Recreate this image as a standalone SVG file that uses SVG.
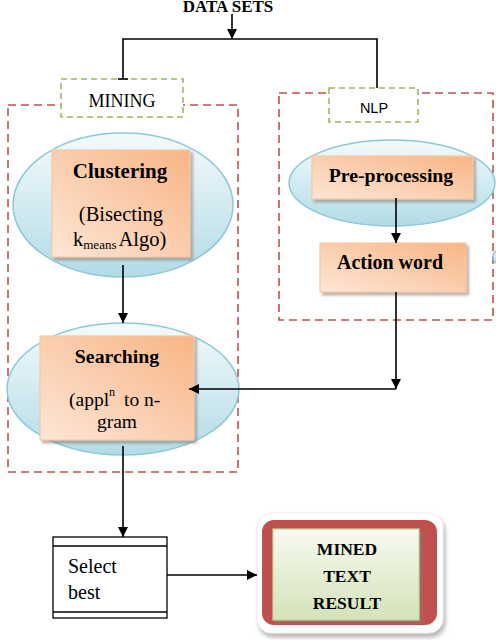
<svg xmlns="http://www.w3.org/2000/svg" width="496" height="640" viewBox="0 0 496 640">
<style>
.ser{font-family:"Liberation Serif","DejaVu Serif",serif;fill:#000}
.b{font-weight:bold}
.san{font-family:"Liberation Sans","DejaVu Sans",sans-serif;fill:#000}
.reddash{fill:none;stroke:#c0504d;stroke-width:1.6;stroke-dasharray:8 5}
.greendash{fill:#fff;stroke:#9bbb59;stroke-width:1.6;stroke-dasharray:6 4}
.ell{fill:url(#gBlue);stroke:#8ec8d8;stroke-width:1.5}
.org{fill:url(#gOrange);stroke:#f6c8a5;stroke-width:1.2;filter:url(#sh)}
.con{fill:none;stroke:#000;stroke-width:1.6}
</style>
<defs>
<linearGradient id="gBlue" x1="0" y1="0" x2="0" y2="1">
<stop offset="0" stop-color="#f4fafc"/>
<stop offset="1" stop-color="#b2dbe6"/>
</linearGradient>
<linearGradient id="gOrange" x1="1" y1="0" x2="0" y2="1">
<stop offset="0" stop-color="#f8b585"/>
<stop offset="1" stop-color="#fde6d6"/>
</linearGradient>
<linearGradient id="gGreen" x1="0" y1="0" x2="0" y2="1">
<stop offset="0" stop-color="#f7faf1"/>
<stop offset="1" stop-color="#d3e3b8"/>
</linearGradient>
<filter id="sh" x="-10%" y="-10%" width="125%" height="130%">
<feDropShadow dx="2.5" dy="3" stdDeviation="1" flood-color="#8a7a70" flood-opacity="0.55"/>
</filter>
<filter id="sh2" x="-10%" y="-10%" width="125%" height="130%">
<feDropShadow dx="2" dy="4" stdDeviation="2" flood-color="#7a6a6a" flood-opacity="0.5"/>
</filter>
<marker id="ah" viewBox="0 0 10 10" refX="10" refY="5" markerWidth="10" markerHeight="10" markerUnits="userSpaceOnUse" orient="auto">
<path d="M0,0 L10,5 L0,10 z" fill="#000"/>
</marker>
</defs>

<g id="title">
<text class="ser b" x="228" y="12" font-size="17" text-anchor="middle">DATA SETS</text>
</g>

<g id="mining-group">
<rect class="reddash" x="8" y="105" width="230" height="367"/>
<rect class="greendash" x="61" y="79" width="122" height="38"/>
<text class="ser" x="122" y="107" font-size="18" text-anchor="middle">MINING</text>
</g>

<g id="nlp-group">
<rect class="reddash" x="279" y="93" width="214" height="227"/>
<rect class="greendash" x="329" y="88" width="89" height="34"/>
<text class="san" x="374" y="113" font-size="14.5" text-anchor="middle">NLP</text>
</g>

<g id="clustering">
<ellipse class="ell" cx="123" cy="205" rx="110" ry="72"/>
<rect class="org" x="52" y="150" width="138" height="107"/>
<text class="ser b" x="120" y="178" font-size="21" text-anchor="middle">Clustering</text>
<text class="ser" x="121" y="221" font-size="20.5" text-anchor="middle">(Bisecting</text>
<text class="ser" x="73" y="246" font-size="20.5">k<tspan font-size="13" dy="3">means</tspan><tspan dy="-3" dx="2">Algo)</tspan></text>
</g>

<g id="preprocessing">
<ellipse class="ell" cx="392" cy="183" rx="103" ry="43"/>
<rect class="org" x="312" y="156" width="161" height="43"/>
<text class="ser b" x="391" y="182" font-size="19.8" text-anchor="middle">Pre-processing</text>
</g>

<g id="partial-ellipse">
<ellipse class="ell" cx="585" cy="257" rx="92" ry="24"/>
</g>

<g id="actionword">
<rect class="org" x="320" y="243" width="146" height="49"/>
<text class="ser b" x="390" y="269" font-size="20" text-anchor="middle">Action word</text>
</g>

<g id="searching">
<ellipse class="ell" cx="123" cy="389" rx="116" ry="66"/>
<rect class="org" x="40" y="336" width="154" height="104"/>
<text class="ser b" x="117" y="363" font-size="19.8" text-anchor="middle">Searching</text>
<text class="ser" x="69" y="406" font-size="19.5">(appl<tspan font-size="12" dy="-10">n</tspan><tspan dy="10" dx="9">to n-</tspan></text>
<text class="ser" x="117" y="428" font-size="19.5" text-anchor="middle">gram</text>
</g>

<g id="selectbest">
<rect x="53" y="537" width="114" height="81" fill="#fff" stroke="#000" stroke-width="1.3"/>
<line x1="53" y1="546" x2="167" y2="546" stroke="#000" stroke-width="1.3"/>
<line x1="53" y1="612" x2="167" y2="612" stroke="#000" stroke-width="1.3"/>
<text class="ser" x="68" y="573" font-size="20">Select</text>
<text class="ser" x="68" y="599" font-size="20">best</text>
</g>

<g id="result">
<rect x="257" y="513" width="186" height="120" rx="14" fill="#fff" stroke="#eee" stroke-width="1" filter="url(#sh2)"/>
<rect x="262" y="520" width="175" height="105" rx="12" fill="#c0504d"/>
<rect x="273" y="529" width="146" height="91" fill="url(#gGreen)" stroke="#c4d79e" stroke-width="1.2" filter="url(#sh)"/>
<text class="ser b" x="347" y="555" font-size="17.5" text-anchor="middle">MINED</text>
<text class="ser b" x="347" y="582" font-size="17.5" text-anchor="middle">TEXT</text>
<text class="ser b" x="347" y="609" font-size="17.5" text-anchor="middle">RESULT</text>
</g>

<g id="connectors">
<path class="con" d="M232,14 V39" marker-end="url(#ah)"/>
<path class="con" d="M123,79 V39 H377 V88"/>
<path class="con" d="M118,79 H128"/>
<path class="con" d="M123,265 V323" marker-end="url(#ah)"/>
<path class="con" d="M396,198 V243" marker-end="url(#ah)"/>
<path class="con" d="M396,292 V389" marker-end="url(#ah)"/>
<path class="con" d="M396,389 H189" marker-end="url(#ah)"/>
<path class="con" d="M123,446 V537" marker-end="url(#ah)"/>
<path class="con" d="M167,575 H257" marker-end="url(#ah)"/>
</g>
</svg>
